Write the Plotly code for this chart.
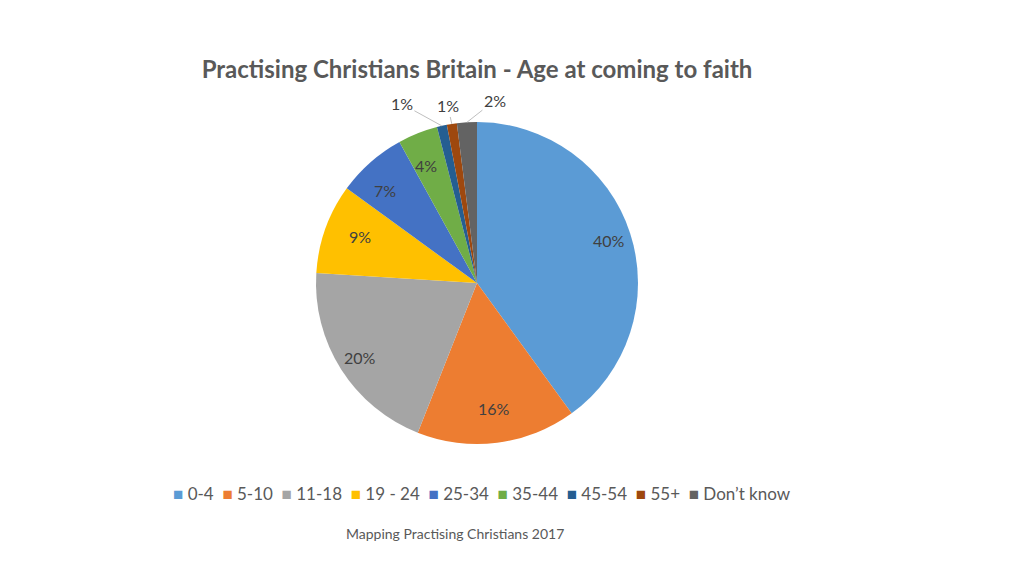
import math
import plotly.graph_objects as go

# Age groups and share of respondents (%)
groups = ['0-4', '5-10', '11-18', '19 - 24', '25-34', '35-44', '45-54', '55+', 'Don’t know']
shares = [40, 16, 20, 9, 7, 4, 1, 1, 2]
colours = ['#5B9BD5', '#ED7D31', '#A5A5A5', '#FFC000', '#4472C4',
           '#70AD47', '#255E91', '#9E480E', '#636363']

W, H = 1024, 576
off = 8  # page body margin
cx, cy, r = 477 - off, 283 - off, 161  # pie centre / radius in pixels

fig = go.Figure(go.Pie(
    labels=groups,
    values=shares,
    sort=False,
    direction='clockwise',
    rotation=0,
    marker=dict(colors=colours, line=dict(width=0)),
    textinfo='none',
    domain=dict(x=[(cx - r) / W, (cx + r) / W],
                y=[(H - cy - r) / H, (H - cy + r) / H]),
    showlegend=False,
))

# data labels, Excel style: big slices inside, small ones with leader lines
callouts = {6: (-40, -22), 7: (-4, -18), 8: (28, -22)}
total = sum(shares)
annots = []
cum = 0
for i, v in enumerate(shares):
    mid = 2 * math.pi * (cum + v / 2) / total
    cum += v
    dx, dy = math.sin(mid), math.cos(mid)
    if i in callouts:
        ax, ay = callouts[i]
        annots.append(dict(
            x=(cx + r * dx) / W, y=(H - cy + r * dy) / H,
            xref='paper', yref='paper', text=f'{v}%',
            showarrow=True, arrowhead=0, arrowwidth=1, arrowcolor='#BFBFBF',
            standoff=0, ax=ax, ay=ay,
            font=dict(family='Lato', size=16, color='#404040'),
        ))
    else:
        annots.append(dict(
            x=(cx + 0.86 * r * dx) / W, y=(H - cy + 0.86 * r * dy) / H,
            xref='paper', yref='paper', text=f'{v}%', showarrow=False,
            font=dict(family='Lato', size=16, color='#404040'),
        ))

# legend row built from the same arrays
legend_text = '  '.join(
    f'<span style="color:{c}">■</span> {g}' for g, c in zip(groups, colours))
annots.append(dict(
    text=legend_text, x=(482 - off) / W, y=(H - 493 + off) / H,
    xref='paper', yref='paper',
    xanchor='center', yanchor='middle', showarrow=False,
    font=dict(family='Lato', size=17, color='#595959'),
))

annots.append(dict(
    text='Mapping Practising Christians 2017',
    x=(455 - off) / W, y=(H - 533 + off) / H, xref='paper', yref='paper',
    xanchor='center', yanchor='middle', showarrow=False,
    font=dict(family='Lato', size=14, color='#595959'),
))

fig.update_layout(
    width=W,
    height=H,
    margin=dict(l=0, r=0, t=0, b=0),
    paper_bgcolor='white',
    font=dict(family='Lato', color='#595959'),
    title=dict(
        text='<b>Practising Christians Britain - Age at coming to faith</b>',
        x=cx / W, y=(H - 70 + off) / H, xanchor='center', yanchor='middle',
        font=dict(size=24, color='#595959'),
    ),
    annotations=annots,
)

fig.write_html('out.html')
